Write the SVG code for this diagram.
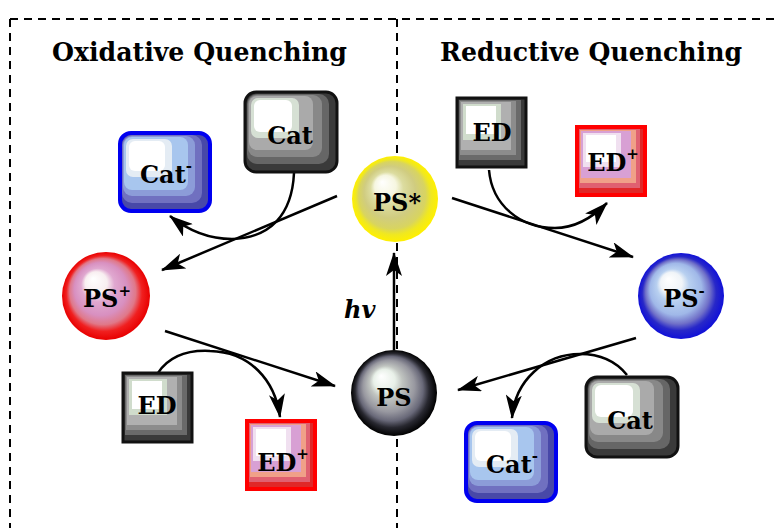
<svg xmlns="http://www.w3.org/2000/svg" xmlns:xlink="http://www.w3.org/1999/xlink" width="776" height="528" viewBox="0 0 776 528">
<style>
.dash{stroke:#000;stroke-width:2;stroke-dasharray:8 6;fill:none}
.title{font-family:"DejaVu Serif","Liberation Serif",serif;font-weight:bold;font-size:26px;fill:#000}
.lbl{font-family:"DejaVu Serif","Liberation Serif",serif;font-weight:bold;font-size:24px;fill:#000;text-anchor:middle}
.sup{font-size:15px}
.arr{stroke:#000;stroke-width:2.5;fill:none;marker-end:url(#ah)}
</style>
<defs>
<marker id="ah" viewBox="0 0 24 16" refX="23" refY="8" markerWidth="24" markerHeight="16" markerUnits="userSpaceOnUse" orient="auto">
<path d="M0,0 L24,8 L0,16 L6,8 z" fill="#000"/>
</marker>
<radialGradient id="gY" cx="0.5" cy="0.5" r="0.5" fx="0.35" fy="0.3">
<stop offset="0" stop-color="#ffffff"/><stop offset="0.25" stop-color="#f6f6e0"/><stop offset="0.38" stop-color="#dcdca0"/><stop offset="0.6" stop-color="#d0cc80"/><stop offset="0.78" stop-color="#d8d460"/><stop offset="0.88" stop-color="#f0e820"/><stop offset="1" stop-color="#fff000"/>
</radialGradient>
<radialGradient id="gR" cx="0.5" cy="0.5" r="0.5" fx="0.35" fy="0.3">
<stop offset="0" stop-color="#ffffff"/><stop offset="0.25" stop-color="#f8eef0"/><stop offset="0.38" stop-color="#e0a8d0"/><stop offset="0.6" stop-color="#d890c0"/><stop offset="0.75" stop-color="#e07888"/><stop offset="0.86" stop-color="#f02020"/><stop offset="1" stop-color="#e80000"/>
</radialGradient>
<radialGradient id="gB" cx="0.5" cy="0.5" r="0.5" fx="0.35" fy="0.3">
<stop offset="0" stop-color="#ffffff"/><stop offset="0.25" stop-color="#f0f4f8"/><stop offset="0.38" stop-color="#b8d0f0"/><stop offset="0.6" stop-color="#a0b8e8"/><stop offset="0.75" stop-color="#7070c8"/><stop offset="0.86" stop-color="#2828c8"/><stop offset="1" stop-color="#1010d8"/>
</radialGradient>
<radialGradient id="gK" cx="0.5" cy="0.5" r="0.5" fx="0.35" fy="0.3">
<stop offset="0" stop-color="#ffffff"/><stop offset="0.25" stop-color="#e8f0e8"/><stop offset="0.38" stop-color="#c0c4c0"/><stop offset="0.6" stop-color="#9898a0"/><stop offset="0.75" stop-color="#686878"/><stop offset="0.86" stop-color="#282830"/><stop offset="1" stop-color="#000000"/>
</radialGradient>
<g id="boxCat">
<rect x="0" y="0" width="92" height="80" rx="11" fill="#3a3a3a" stroke="#111" stroke-width="3"/>
<rect x="2" y="2" width="82" height="70" rx="10" fill="#666"/>
<rect x="3" y="3" width="74" height="62" rx="9" fill="#888"/>
<rect x="4" y="4" width="64" height="54" rx="8" fill="#aaa"/>
<rect x="6" y="6" width="48" height="40" rx="7" fill="#d6e0d4"/>
<rect x="9" y="8" width="38" height="32" rx="6" fill="#fff"/>
</g>
<g id="boxCatM">
<rect x="0" y="0" width="90" height="78" rx="11" fill="#4848a8" stroke="#0000f0" stroke-width="4"/>
<rect x="2" y="2" width="80" height="68" rx="10" fill="#7070c0"/>
<rect x="3" y="3" width="72" height="60" rx="9" fill="#8c9cd8"/>
<rect x="4" y="4" width="64" height="53" rx="8" fill="#a8c6ee"/>
<rect x="6" y="6" width="46" height="38" rx="7" fill="#e4ecf4"/>
<rect x="9" y="8" width="36" height="30" rx="6" fill="#fff"/>
</g>
<g id="boxED">
<rect x="0" y="0" width="69" height="69" fill="#3a3a3a" stroke="#111" stroke-width="3"/>
<rect x="2" y="2" width="62" height="60" fill="#6a6a6a"/>
<rect x="3" y="3" width="56" height="54" fill="#8c8c8c"/>
<rect x="4" y="4" width="50" height="48" fill="#b0b0b0"/>
<rect x="6" y="6" width="38" height="36" fill="#d0dccc"/>
<rect x="9" y="8" width="30" height="28" fill="#fff"/>
</g>
<g id="boxEDP">
<rect x="0" y="0" width="68" height="68" fill="#e02828" stroke="#ff0000" stroke-width="4"/>
<rect x="2" y="2" width="61" height="59" fill="#e06070"/>
<rect x="3" y="3" width="56" height="53" fill="#f0a088"/>
<rect x="4" y="4" width="50" height="47" fill="#d8a0d4"/>
<rect x="6" y="6" width="38" height="34" fill="#f0e0f0"/>
<rect x="9" y="8" width="30" height="27" fill="#fff"/>
</g>
</defs>
<rect width="776" height="528" fill="#fff"/>
<g id="frame">
<line class="dash" x1="10" y1="19" x2="776" y2="19"/>
<line class="dash" x1="10" y1="19" x2="10" y2="528"/>
<line class="dash" x1="397" y1="19" x2="397" y2="528"/>
</g>
<g id="titles">
<text class="title" x="52" y="61" textLength="295" lengthAdjust="spacingAndGlyphs">Oxidative Quenching</text>
<text class="title" x="440" y="61" textLength="302" lengthAdjust="spacingAndGlyphs">Reductive Quenching</text>
</g>
<g id="connectors">
<path class="arr" d="M337,196 L162,270"/>
<path class="arr" d="M452,198 L633,257"/>
<path class="arr" d="M165,331 L335,386"/>
<path class="arr" d="M636,338 L458,390"/>
<path class="arr" d="M394,350 L394,253"/>
<path class="arr" d="M294,173 C292,215 270,238 232,239 C205,239 185,228 170,216"/>
<path class="arr" d="M489,170 C492,205 520,228 555,228 C578,228 595,215 607,203"/>
<path class="arr" d="M158,373 C170,355 190,350 210,351 C250,352 275,380 280,417"/>
<path class="arr" d="M627,375 C615,360 600,354 580,354 C545,354 515,380 512,418"/>
<text x="344" y="318" style="font-family:'DejaVu Serif','Liberation Serif',serif;font-weight:bold;font-style:italic;font-size:24px">hv</text>
</g>
<g id="PSstar">
<circle cx="395" cy="199" r="43" fill="url(#gY)"/>
<text class="lbl" x="397" y="211">PS*</text>
</g>
<g id="PSplus">
<circle cx="106" cy="296" r="44" fill="url(#gR)"/>
<text class="lbl" x="107" y="307">PS<tspan class="sup" dy="-11">+</tspan></text>
</g>
<g id="PSminus">
<circle cx="681" cy="296" r="43" fill="url(#gB)"/>
<text class="lbl" x="684" y="307">PS<tspan class="sup" dy="-11">-</tspan></text>
</g>
<g id="PS">
<circle cx="394" cy="393" r="43" fill="url(#gK)"/>
<text class="lbl" x="394" y="406">PS</text>
</g>
<g id="CatTL">
<use xlink:href="#boxCat" x="245" y="92"/>
<text class="lbl" x="290" y="144">Cat</text>
</g>
<g id="CatMinusTL">
<use xlink:href="#boxCatM" x="120" y="133"/>
<text class="lbl" x="166" y="183">Cat<tspan class="sup" dy="-12">-</tspan></text>
</g>
<g id="EDTR">
<use xlink:href="#boxED" x="457" y="98"/>
<text class="lbl" x="492" y="141">ED</text>
</g>
<g id="EDplusTR">
<use xlink:href="#boxEDP" x="577" y="127"/>
<text class="lbl" x="613" y="171">ED<tspan class="sup" dy="-12">+</tspan></text>
</g>
<g id="EDBL">
<use xlink:href="#boxED" x="123" y="373"/>
<text class="lbl" x="157" y="414">ED</text>
</g>
<g id="EDplusBL">
<use xlink:href="#boxEDP" x="247" y="421"/>
<text class="lbl" x="283" y="471">ED<tspan class="sup" dy="-12">+</tspan></text>
</g>
<g id="CatBR">
<use xlink:href="#boxCat" x="586" y="377"/>
<text class="lbl" x="630" y="429">Cat</text>
</g>
<g id="CatMinusBR">
<use xlink:href="#boxCatM" x="466" y="423"/>
<text class="lbl" x="512" y="473">Cat<tspan class="sup" dy="-12">-</tspan></text>
</g>
</svg>
